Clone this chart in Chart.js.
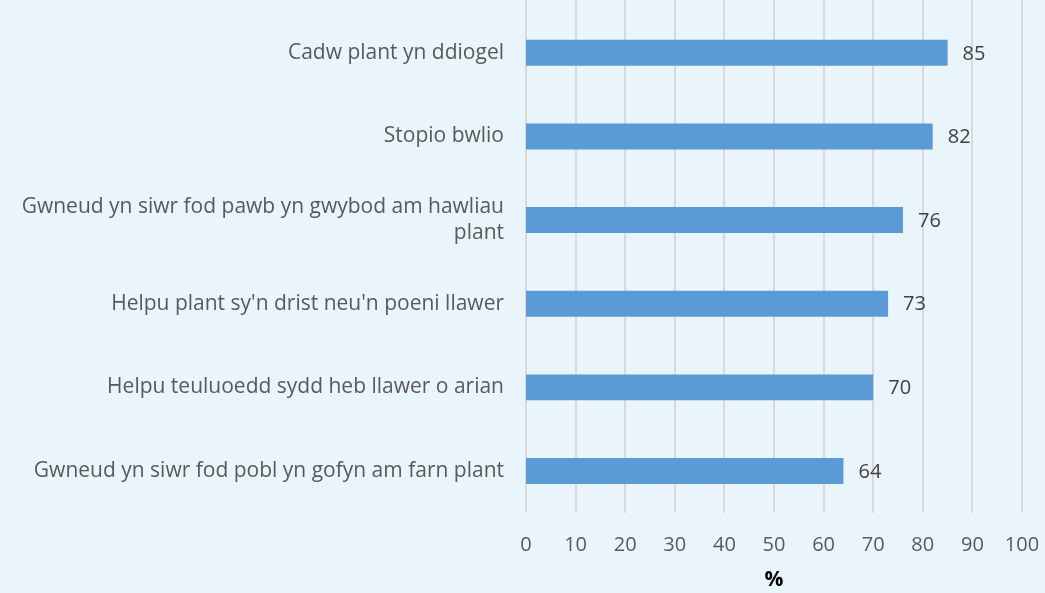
<!DOCTYPE html>
<html>
<head>
<meta charset="utf-8">
<script src="https://cdn.jsdelivr.net/npm/chart.js@4"></script>
<style>
  body { margin: 0; background: #EAF4FB; }
  #wrap { width: 1045px; height: 593px; }
</style>
</head>
<body>
<div id="wrap"><canvas id="grafico" width="1045" height="593"></canvas></div>
<script>
const categorias = [
    'Cadw plant yn ddiogel',
    'Stopio bwlio',
    ['Gwneud yn siwr fod pawb yn gwybod am hawliau', 'plant'],
    "Helpu plant sy'n drist neu'n poeni llawer",
    'Helpu teuluoedd sydd heb llawer o arian',
    'Gwneud yn siwr fod pobl yn gofyn am farn plant'
];
const valores = [85, 82, 76, 73, 70, 64];
const ticksX = [0, 10, 20, 30, 40, 50, 60, 70, 80, 90, 100];

const fonte = "'Open Sans', sans-serif";

// linhas verticais da grade, do topo da imagem até a base do gráfico
const grade = {
    id: 'grade',
    beforeDatasetsDraw(chart) {
        const ctx = chart.ctx;
        const x = chart.scales.x;
        ctx.save();
        ctx.strokeStyle = '#D9D9D9';
        ctx.lineWidth = 2;
        ticksX.forEach(v => {
            const px = Math.round(x.getPixelForValue(v));
            ctx.beginPath();
            ctx.moveTo(px, 0);
            ctx.lineTo(px, chart.chartArea.bottom);
            ctx.stroke();
        });
        ctx.restore();
    }
};

// etiquetas de valor ao lado de cada barra
const rotulos = {
    id: 'rotulos',
    afterDatasetsDraw(chart) {
        const ctx = chart.ctx;
        const meta = chart.getDatasetMeta(0);
        ctx.save();
        ctx.font = '20px ' + fonte;
        ctx.fillStyle = '#404040';
        ctx.textAlign = 'left';
        ctx.textBaseline = 'middle';
        meta.data.forEach((barra, i) => {
            ctx.fillText(valores[i], barra.x + 15, barra.y + 1);
        });
        ctx.restore();
    }
};

// sem folga automática das escalas, a margem vem só do layout
function semFolga(scale) {
    scale.paddingTop = 0;
    scale.paddingBottom = 0;
    scale.paddingLeft = 0;
    scale.paddingRight = 0;
}

const ctxBarra = document.getElementById('grafico').getContext('2d');
const graficoBarra = new Chart(ctxBarra, {
    type: 'bar',
    data: {
        labels: categorias,
        datasets: [{
            data: valores,
            backgroundColor: '#5B9BD5',
            borderWidth: 0,
            categoryPercentage: 0.62,
            barPercentage: 0.5
        }]
    },
    options: {
        indexAxis: 'y',
        responsive: false,
        animation: false,
        layout: { padding: { top: 11, right: 23, left: 21, bottom: 0 } },
        plugins: {
            legend: { display: false },
            tooltip: { enabled: false }
        },
        scales: {
            x: {
                min: 0,
                max: 100,
                afterBuildTicks(axis) {
                    axis.ticks = ticksX.map(v => ({ value: v }));
                },
                afterFit: semFolga,
                grid: { display: false, drawTicks: false },
                border: { display: false },
                ticks: {
                    color: '#595959',
                    font: { family: fonte, size: 20 },
                    padding: 20
                },
                title: {
                    display: true,
                    text: '%',
                    color: '#000000',
                    font: { family: fonte, size: 21, weight: 'bold' },
                    padding: { top: -9, bottom: 0 }
                }
            },
            y: {
                afterFit(scale) {
                    semFolga(scale);
                    scale.width = 505;
                },
                grid: { display: false, drawTicks: false },
                border: { display: false },
                ticks: {
                    color: '#595959',
                    font: { family: fonte, size: 21 },
                    padding: 22
                }
            }
        }
    },
    plugins: [grade, rotulos]
});
</script>
</body>
</html>
